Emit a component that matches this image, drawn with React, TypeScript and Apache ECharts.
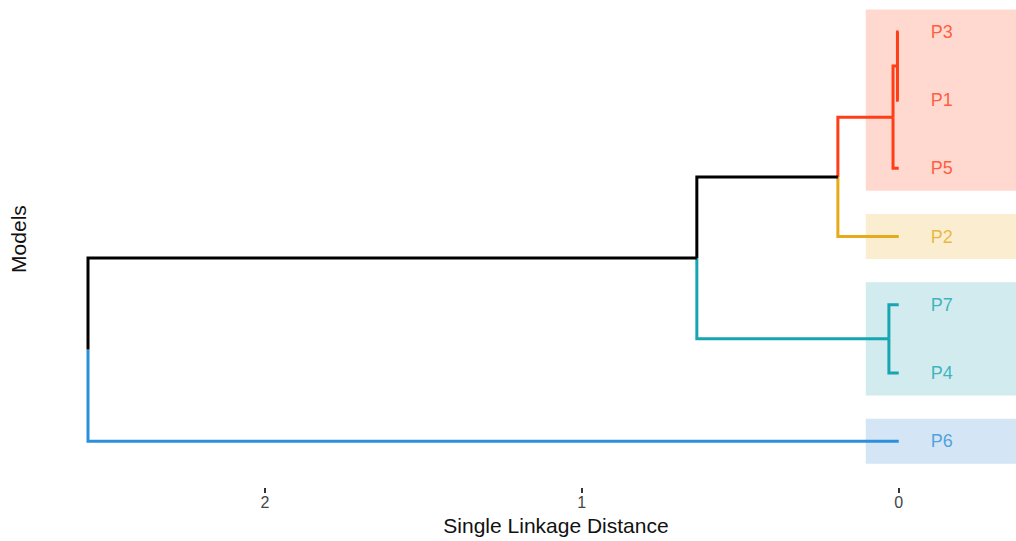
import React, { useEffect, useRef } from "react";
import * as echarts from "echarts";

// Leaves in display order (top to bottom)
const leaves = ["P3", "P1", "P5", "P2", "P7", "P4", "P6"];
const leafCluster = [0, 0, 0, 1, 2, 2, 3];
const clusterLine = ["#FF3D17", "#E6AA1A", "#17A5B1", "#2D8FDA"];
const clusterFill = ["#FFD8D0", "#FAEDD0", "#D1EBEE", "#D4E6F5"];

// Merges: node ids 0..6 are leaves, merge k creates node 7+k
const mergeLeft = [0, 7, 8, 4, 9, 11];
const mergeRight = [1, 2, 3, 5, 10, 6];
const mergeHeight = [0.004, 0.018, 0.192, 0.031, 0.637, 2.558];

const xTicks = [0, 1, 2];

const FONT = "'Liberation Sans', Arial, Helvetica, sans-serif";

export default function App() {
  const ref = useRef<HTMLDivElement>(null);

  useEffect(() => {
    if (!ref.current) return;
    const chart = echarts.init(ref.current, undefined, { renderer: "svg" });

    const n = leaves.length;
    const nodeY: number[] = leaves.map((_, i) => i);
    const nodeH: number[] = leaves.map(() => 0);
    const nodeColor: string[] = leafCluster.map((c) => clusterLine[c]);
    const parent: number[] = [];
    mergeHeight.forEach((h, k) => {
      const id = n + k;
      const l = mergeLeft[k];
      const r = mergeRight[k];
      nodeY[id] = (nodeY[l] + nodeY[r]) / 2;
      nodeH[id] = h;
      nodeColor[id] = nodeColor[l] === nodeColor[r] ? nodeColor[l] : "#000000";
      parent[l] = id;
      parent[r] = id;
    });

    const edgeSeries: any[] = [];
    for (let id = 0; id < nodeY.length; id++) {
      const p = parent[id];
      if (p === undefined) continue;
      edgeSeries.push({
        type: "line",
        data: [
          [nodeH[id], nodeY[id]],
          [nodeH[p], nodeY[id]],
          [nodeH[p], nodeY[p]],
        ],
        showSymbol: false,
        symbol: "none",
        clip: false,
        silent: true,
        z: 3,
        lineStyle: { color: nodeColor[id], width: 3, cap: "butt", join: "miter" },
      });
    }

    // cluster shaded areas
    const areas: any[] = [];
    clusterLine.forEach((_, c) => {
      const rows = leafCluster.map((cc, i) => (cc === c ? i : -1)).filter((i) => i >= 0);
      const lo = Math.min(...rows);
      const hi = Math.max(...rows);
      areas.push([
        { coord: [0.104, lo - 0.33], itemStyle: { color: clusterFill[c], opacity: 1 } },
        { coord: [-0.37, hi + 0.33] },
      ]);
    });

    const labelSeries = {
      type: "scatter",
      data: leaves.map((name, i) => ({
        value: [0, i],
        name,
        label: { color: clusterLine[leafCluster[i]] },
      })),
      symbolSize: 0,
      silent: true,
      z: 2,
      label: {
        show: true,
        position: "right",
        distance: 32,
        formatter: (p: any) => p.name,
        fontSize: 18,
        fontFamily: FONT,
      },
      markArea: {
        silent: true,
        data: areas,
        label: { show: false },
      },
    };

    chart.setOption({
      animation: false,
      backgroundColor: "#ffffff",
      grid: { left: 43, right: 0, top: 4, bottom: 52 },
      xAxis: {
        type: "value",
        inverse: true,
        min: -0.37,
        max: 2.7,
        name: "Single Linkage Distance",
        nameLocation: "middle",
        nameGap: 25,
        nameTextStyle: { fontSize: 21, color: "#111", fontFamily: FONT, padding: [0, 0, 0, 53] },
        axisLine: { show: false, onZero: false },
        axisTick: {
          show: true,
          length: 5,
          customValues: xTicks,
          lineStyle: { color: "#333", width: 2 },
        },
        axisLabel: {
          customValues: xTicks,
          fontSize: 16,
          color: "#444",
          fontFamily: FONT,
          margin: 6,
        },
        splitLine: { show: false },
      },
      yAxis: {
        type: "value",
        inverse: true,
        min: -0.41,
        max: 6.688,
        name: "Models",
        nameLocation: "middle",
        nameRotate: 90,
        nameGap: 14,
        nameTextStyle: { fontSize: 21, color: "#111", fontFamily: FONT, padding: [0, 0, 0, 14] },
        axisLine: { show: false, onZero: false },
        axisTick: { show: false },
        axisLabel: { show: false },
        splitLine: { show: false },
      },
      series: [labelSeries, ...edgeSeries],
    });

    return () => chart.dispose();
  }, []);

  return (
    <div
      ref={ref}
      style={{ position: "fixed", left: 0, top: 0, width: 1016, height: 541, background: "#fff" }}
    />
  );
}
